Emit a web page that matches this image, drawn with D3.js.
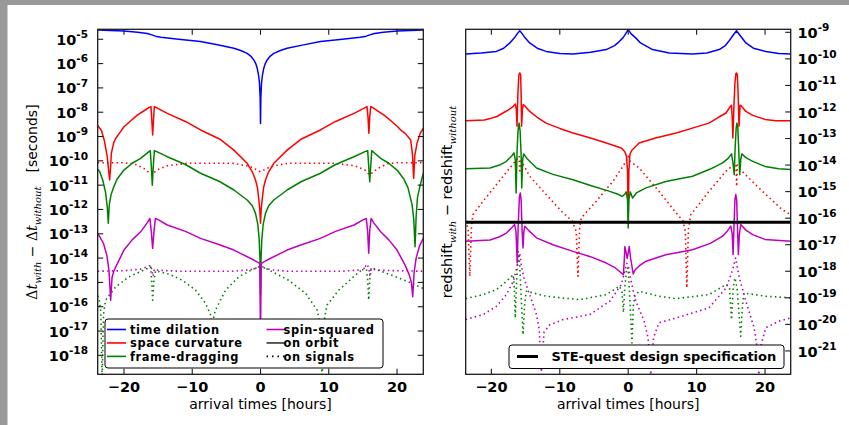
<!DOCTYPE html>
<html><head><meta charset="utf-8">
<script src="https://cdn.jsdelivr.net/npm/d3@7"></script>
<style>body{margin:0;background:#fff}svg{display:block}</style>
</head><body><svg id="c" width="849" height="425"></svg>
<script>
// ---- DATA: [arrival time (hours), log10(value)] ----
const xTicks = [-20, -10, 0, 10, 20];
const leftYExps = [-5,-6,-7,-8,-9,-10,-11,-12,-13,-14,-15,-16,-17,-18];
const rightYExps = [-9,-10,-11,-12,-13,-14,-15,-16,-17,-18,-19,-20,-21];

// Left panel: delta t (seconds), solid = on orbit
const lTimeDilation = [[-23.85,-4.62],[-22,-4.64],[-20,-4.66],[-18,-4.71],[-16.6,-4.76],[-15.8,-4.83],[-15.2,-4.89],[-14.6,-4.92],[-12,-5.0],[-8.8,-5.09],[-6.3,-5.23],[-3.9,-5.37],[-2.9,-5.46],[-1.95,-5.58],[-1.4,-5.7],[-0.98,-5.85],[-0.7,-6.0],[-0.49,-6.18],[-0.3,-6.45],[-0.15,-6.8],[-0.05,-7.4],[0,-8.46],[0.05,-7.4],[0.15,-6.8],[0.3,-6.45],[0.49,-6.18],[0.7,-6.0],[0.98,-5.85],[1.4,-5.7],[1.95,-5.58],[2.9,-5.46],[3.9,-5.37],[6.3,-5.23],[8.8,-5.09],[12,-5.0],[14.6,-4.92],[15.3,-4.89],[15.9,-4.83],[16.7,-4.76],[18,-4.71],[20,-4.66],[22,-4.64],[23.85,-4.62]];
const lSpaceCurv = [[-23.85,-8.55],[-23.3,-8.75],[-22.9,-9.14],[-22.45,-9.83],[-22.25,-10.4],[-22.1,-10.79],[-21.95,-10.2],[-21.85,-9.69],[-21.5,-9.25],[-21.2,-9.07],[-20.5,-8.8],[-20,-8.6],[-19,-8.35],[-18.05,-8.12],[-17,-7.93],[-16.3,-7.80],[-16.05,-7.77],[-15.95,-8.2],[-15.8,-8.94],[-15.65,-8.2],[-15.55,-7.77],[-15.3,-7.80],[-13.66,-8.05],[-11,-8.38],[-8.78,-8.73],[-6,-9.1],[-3.9,-9.56],[-1.95,-10.1],[-1.2,-10.45],[-0.73,-10.79],[-0.45,-11.1],[-0.24,-11.61],[-0.1,-12.0],[0,-12.57],[0.1,-12.0],[0.24,-11.61],[0.45,-11.1],[0.73,-10.79],[1.2,-10.45],[1.95,-10.1],[3.9,-9.56],[6,-9.1],[8.78,-8.73],[11,-8.38],[13.7,-8.05],[15.4,-7.80],[15.6,-7.77],[15.75,-8.2],[15.88,-8.87],[16.0,-8.2],[16.15,-7.77],[16.4,-7.80],[17.1,-7.93],[18.1,-8.12],[19.1,-8.35],[20.1,-8.6],[20.6,-8.75],[21.2,-8.87],[22.0,-9.14],[22.25,-9.7],[22.44,-10.72],[22.6,-9.8],[22.93,-9.28],[23.4,-8.87],[23.85,-8.66]];
const lFrameDrag = [[-23.85,-10.35],[-23.55,-10.45],[-23.1,-10.8],[-22.7,-11.3],[-22.45,-11.9],[-22.3,-12.57],[-22.15,-11.8],[-21.9,-11.4],[-21.5,-11.07],[-21,-10.75],[-20,-10.38],[-18.8,-10.1],[-17.56,-9.90],[-16.6,-9.68],[-16.15,-9.58],[-16.0,-10.2],[-15.85,-11.0],[-15.7,-10.2],[-15.55,-9.58],[-15.2,-9.62],[-13.66,-9.83],[-11,-10.15],[-8.78,-10.51],[-6,-10.85],[-3.9,-11.2],[-1.95,-11.61],[-1.2,-11.85],[-0.73,-12.16],[-0.4,-12.6],[-0.2,-13.2],[-0.08,-14],[0,-15.5],[0.08,-14],[0.2,-13.2],[0.4,-12.6],[0.73,-12.16],[1.2,-11.85],[1.95,-11.61],[3.9,-11.2],[6,-10.85],[8.78,-10.51],[11,-10.15],[13.7,-9.83],[15.3,-9.62],[15.7,-9.58],[15.85,-10.2],[16.0,-10.86],[16.15,-10.2],[16.3,-9.58],[16.7,-9.68],[17.6,-9.90],[18.8,-10.1],[20,-10.38],[21,-10.75],[21.6,-11.1],[22.2,-11.8],[22.45,-12.4],[22.64,-13.53],[22.8,-12.3],[23.0,-11.5],[23.4,-11.0],[23.85,-10.51]];
const lSpinSq = [[-23.85,-13.0],[-23.55,-13.12],[-23,-13.4],[-22.5,-13.9],[-22.2,-14.5],[-21.95,-15.73],[-21.75,-14.8],[-21.5,-14.55],[-21.2,-14.36],[-20,-13.67],[-18.8,-13.25],[-17.56,-12.92],[-16.6,-12.55],[-16.2,-12.37],[-16.0,-12.9],[-15.8,-13.6],[-15.6,-12.9],[-15.4,-12.37],[-15.0,-12.42],[-13.66,-12.64],[-11,-12.9],[-8.78,-13.19],[-6,-13.45],[-3.9,-13.67],[-0.98,-14.08],[-0.1,-14.22],[0,-17.5],[0.1,-14.22],[0.98,-14.08],[3.9,-13.67],[6,-13.45],[8.78,-13.19],[11,-12.9],[13.7,-12.64],[15.1,-12.42],[15.5,-12.37],[15.7,-12.9],[15.85,-13.8],[16.0,-12.9],[16.2,-12.37],[16.6,-12.55],[17.6,-12.92],[18.8,-13.25],[20,-13.67],[21.2,-14.3],[21.8,-14.7],[22.1,-15.0],[22.3,-15.59],[22.5,-14.6],[22.8,-14.0],[23.3,-13.5],[23.85,-13.19]];
// Left panel, dotted = on signals
const lSpaceCurvSig = [[-23.85,-10.08],[-20,-10.08],[-18.5,-10.12],[-17.1,-10.31],[-15.9,-10.58],[-15.2,-10.38],[-13.66,-10.2],[-10.7,-10.1],[-4,-10.1],[-1.46,-10.24],[0,-10.45],[1.46,-10.24],[4,-10.1],[10.7,-10.1],[13.8,-10.2],[15.3,-10.38],[16.0,-10.58],[17.2,-10.31],[18.6,-10.12],[20,-10.08],[23.85,-10.08]];
const lFrameDragSig = [[-23.85,-15.55],[-23.66,-15.66],[-23.4,-16.2],[-23.2,-19],[-23.0,-16.3],[-22.7,-15.73],[-21.2,-15.18],[-19.27,-14.77],[-17.3,-14.52],[-16.1,-14.36],[-15.95,-14.9],[-15.8,-15.73],[-15.6,-14.9],[-15.37,-14.52],[-13.4,-14.66],[-11.45,-14.91],[-9.5,-15.32],[-8.05,-15.86],[-7.3,-16.34],[-7.07,-18.5],[-6.85,-16.4],[-6.6,-16.14],[-5.12,-15.32],[-3.17,-14.77],[-1.2,-14.47],[0.1,-14.33],[1.7,-14.56],[4.1,-14.91],[6.6,-15.45],[8.3,-16.14],[8.75,-16.8],[9.03,-19],[9.3,-16.6],[9.75,-15.93],[11.46,-15.32],[13.9,-14.70],[15.1,-14.43],[15.5,-14.4],[15.7,-14.9],[15.85,-15.73],[16.0,-14.9],[16.2,-14.4],[16.6,-14.43],[19.8,-14.77],[21.7,-14.98],[23.85,-15.25]];
const lSpinSqSig = [[-23.85,-14.54],[-20,-14.52],[-17.5,-14.45],[-16.5,-14.35],[-16.1,-14.29],[-15.9,-14.5],[-15.75,-14.75],[-15.55,-14.45],[-15,-14.5],[-12,-14.54],[-4,-14.54],[-1.5,-14.48],[-0.5,-14.4],[0,-14.33],[0.5,-14.4],[1.5,-14.48],[4,-14.54],[12,-14.54],[15,-14.48],[15.6,-14.25],[15.85,-14.4],[16.0,-14.7],[16.2,-14.45],[17.5,-14.5],[20,-14.52],[23.85,-14.54]];

// Right panel: redshift difference, solid = on orbit
const rTimeDilation = [[-23.75,-9.82],[-21.5,-9.78],[-19.27,-9.72],[-18.2,-9.6],[-17.3,-9.40],[-16.6,-9.2],[-16.2,-9.05],[-15.85,-8.94],[-15.5,-9.05],[-15.1,-9.2],[-14.4,-9.40],[-13.3,-9.6],[-12.0,-9.72],[-10,-9.8],[-8.07,-9.82],[-5.5,-9.75],[-3.2,-9.65],[-2,-9.5],[-1.3,-9.35],[-0.77,-9.21],[-0.35,-9.05],[0,-8.90],[0.4,-9.05],[1.1,-9.21],[1.8,-9.4],[3.56,-9.65],[6,-9.78],[9.4,-9.82],[11.5,-9.78],[13.3,-9.65],[14.2,-9.5],[14.7,-9.34],[15.3,-9.12],[15.83,-8.94],[16.3,-9.1],[17.2,-9.40],[18.3,-9.6],[20.1,-9.72],[22,-9.8],[23.75,-9.82]];
const rSpaceCurv = [[-23.75,-12.33],[-21,-12.3],[-20.2,-12.25],[-19.2,-12.17],[-18.3,-12.04],[-17.5,-11.92],[-16.8,-11.79],[-16.5,-11.70],[-16.35,-11.9],[-16.25,-12.54],[-16.12,-11.3],[-15.98,-10.6],[-15.85,-10.53],[-15.72,-10.6],[-15.65,-11.3],[-15.58,-12.54],[-15.45,-11.9],[-15.35,-11.72],[-15.0,-11.8],[-14.4,-11.98],[-13.3,-12.2],[-12.0,-12.42],[-10,-12.62],[-8.07,-12.79],[-5.5,-12.98],[-3.2,-13.17],[-2,-13.27],[-1.0,-13.36],[-0.5,-13.5],[-0.25,-13.67],[-0.1,-14.2],[0,-16.0],[0.1,-14.2],[0.25,-13.6],[0.5,-13.45],[1.6,-13.17],[4,-12.98],[7.0,-12.79],[9.5,-12.6],[11.8,-12.42],[13.2,-12.2],[14.3,-12.04],[14.9,-11.8],[15.1,-11.75],[15.2,-12.2],[15.3,-12.98],[15.45,-11.8],[15.6,-10.9],[15.75,-10.55],[15.83,-10.53],[15.95,-10.6],[16.05,-11.2],[16.2,-12.54],[16.35,-11.75],[16.45,-11.75],[17.2,-11.98],[18.2,-12.13],[20,-12.28],[21.6,-12.33],[23.75,-12.33]];
const rFrameDrag = [[-23.75,-14.14],[-20.2,-14.11],[-18.8,-14.0],[-17.8,-13.86],[-17.0,-13.65],[-16.7,-13.54],[-16.5,-13.8],[-16.38,-15.05],[-16.25,-13.5],[-16.1,-12.7],[-15.95,-12.42],[-15.8,-12.7],[-15.65,-13.6],[-15.56,-14.86],[-15.42,-13.8],[-15.27,-13.58],[-14.8,-13.75],[-13.4,-14.11],[-11,-14.35],[-8.07,-14.55],[-5.5,-14.77],[-2.7,-14.99],[-1.5,-15.1],[-0.88,-15.18],[-0.5,-15.1],[-0.3,-15.01],[-0.1,-15.3],[0,-16.37],[0.1,-15.3],[0.3,-15.01],[0.5,-15.15],[0.64,-15.24],[1.2,-15.05],[2.6,-14.86],[5.5,-14.62],[9.4,-14.42],[12,-14.15],[13.8,-13.92],[14.6,-13.75],[15.1,-13.58],[15.3,-13.9],[15.5,-14.36],[15.62,-13.4],[15.78,-12.6],[15.9,-12.42],[16.02,-12.6],[16.15,-13.4],[16.3,-14.36],[16.45,-13.8],[16.6,-13.58],[17.2,-13.72],[18.2,-13.86],[20,-14.05],[22,-14.14],[23.75,-14.17]];
const rSpinSq = [[-23.75,-16.87],[-20.2,-16.82],[-18.8,-16.7],[-17.8,-16.56],[-17.0,-16.35],[-16.6,-16.24],[-16.4,-16.5],[-16.22,-17.69],[-16.08,-16.3],[-15.9,-15.2],[-15.77,-15.05],[-15.65,-15.3],[-15.5,-16.5],[-15.37,-17.12],[-15.25,-16.5],[-15.1,-16.30],[-14.6,-16.45],[-13.4,-16.74],[-11,-17.0],[-8.07,-17.25],[-5.5,-17.45],[-3.2,-17.69],[-2,-17.85],[-1.3,-18.0],[-0.7,-18.13],[-0.58,-17.6],[-0.48,-17.07],[-0.3,-17.3],[-0.15,-17.51],[0,-17.3],[0.15,-17.07],[0.35,-17.5],[0.73,-18.1],[1.0,-17.95],[1.6,-17.8],[2.6,-17.62],[5.5,-17.38],[9.4,-17.19],[12,-16.95],[13.8,-16.68],[14.5,-16.48],[15.0,-16.30],[15.2,-16.6],[15.33,-17.37],[15.45,-16.4],[15.6,-15.3],[15.72,-15.11],[15.85,-15.3],[15.98,-16.4],[16.1,-17.37],[16.25,-16.6],[16.45,-16.24],[17.2,-16.45],[18.2,-16.62],[20,-16.8],[23.75,-16.87]];
// Right panel, dotted = on signals
const rSpaceCurvSig = [[-23.75,-16.1],[-23.4,-16.4],[-23.15,-18.19],[-22.9,-16.3],[-22.7,-15.87],[-21.2,-15.36],[-19.27,-14.74],[-17.3,-14.11],[-16.1,-13.73],[-15.95,-13.65],[-15.85,-14.3],[-15.7,-13.85],[-15.4,-13.95],[-14.4,-14.42],[-12.0,-15.11],[-9.53,-15.80],[-8.2,-16.1],[-7.6,-16.5],[-7.34,-18.19],[-7.1,-16.4],[-6.86,-15.99],[-4.67,-15.36],[-2.23,-14.61],[-0.3,-13.86],[0,-13.67],[0.3,-13.86],[1.6,-14.11],[4.5,-14.99],[7.0,-15.80],[8.0,-16.1],[8.35,-16.5],[8.57,-18.63],[8.8,-16.4],[9.15,-15.87],[11.8,-14.99],[14.3,-14.23],[15.5,-13.98],[15.75,-13.95],[15.85,-14.81],[15.95,-14.0],[16.5,-14.2],[19.1,-14.86],[22.5,-15.68],[23.75,-15.87]];
const rFrameDragSig = [[-23.75,-19.03],[-21.2,-18.88],[-19.27,-18.69],[-17.8,-18.38],[-16.8,-18.13],[-16.65,-18.6],[-16.5,-19.76],[-16.3,-18.3],[-16.1,-17.25],[-15.85,-17.8],[-15.6,-19.2],[-15.37,-20.39],[-15.15,-19.3],[-14.9,-18.75],[-12.0,-18.94],[-7.1,-19.07],[-3.2,-18.88],[-1.26,-18.56],[-0.9,-18.8],[-0.7,-19.55],[-0.5,-18.6],[-0.2,-17.87],[0,-17.9],[0.15,-18.6],[0.55,-20.7],[0.75,-19.3],[1.0,-18.9],[1.6,-18.75],[4.5,-18.94],[7.0,-19.03],[11.8,-18.88],[14.3,-18.50],[14.8,-18.6],[15.1,-19.82],[15.35,-18.6],[15.6,-18.25],[15.9,-18.6],[16.2,-19.6],[16.45,-20.45],[16.7,-19.3],[16.9,-18.82],[20.1,-18.94],[23.75,-19.0]];
const rSpinSqSig = [[-23.75,-19.82],[-21.2,-19.63],[-19.27,-19.32],[-17.8,-18.88],[-16.8,-18.38],[-16.2,-17.8],[-15.85,-17.32],[-15.6,-17.8],[-15.2,-18.3],[-14.4,-18.88],[-13.4,-19.63],[-13.0,-20.2],[-12.7,-21.8],[-12.3,-20.3],[-11.5,-20.02],[-9.53,-19.82],[-5.63,-19.63],[-2.7,-19.13],[-1.0,-18.50],[-0.5,-18.0],[-0.2,-17.7],[0,-17.8],[0.3,-18.2],[0.7,-18.7],[1.12,-19.13],[2.34,-19.88],[2.9,-20.5],[3.31,-21.9],[3.7,-20.5],[4.5,-19.94],[7.0,-19.76],[11.8,-19.38],[14.3,-18.63],[15.2,-18.0],[15.7,-17.5],[16.2,-18.2],[17.2,-19.13],[18.4,-20.13],[18.8,-20.8],[19.1,-21.9],[19.4,-20.8],[20.1,-20.13],[22.0,-19.88],[23.75,-19.76]];
const steQuestSpecLog = -16.15;

const colors = {"time dilation":"#0000ff","space curvature":"#ff0000","frame-dragging":"#008000","spin-squared":"#bf00bf"};

// ---- DRAW ----
const svg = d3.select("#c");
svg.append("rect").attr("x",0).attr("y",0).attr("width",849).attr("height",425).attr("fill","#fff");
svg.append("rect").attr("x",0).attr("y",0).attr("width",849).attr("height",5).attr("fill","#999");
svg.append("rect").attr("x",0).attr("y",0).attr("width",7.5).attr("height",425).attr("fill","#999");

const yTop = 29.3, yBot = 374.3;
const L = {x0:97.7, x1:423.3, xd:[-23.85,23.85], yd:[-18.78,-4.59], id:"L"};
const R = {x0:465.7, x1:790.7, xd:[-23.75,23.75], yd:[-21.88,-8.887], id:"R"};
[L,R].forEach(p=>{
  p.x = d3.scaleLinear().domain(p.xd).range([p.x0,p.x1]);
  p.y = d3.scaleLog().domain([Math.pow(10,p.yd[0]),Math.pow(10,p.yd[1])]).range([yBot,yTop]);
  svg.append("clipPath").attr("id","clip"+p.id).append("rect")
    .attr("x",p.x0).attr("y",yTop).attr("width",p.x1-p.x0).attr("height",yBot-yTop);
  p.g = svg.append("g").attr("clip-path",`url(#clip${p.id})`);
  p.line = d3.line().x(d=>p.x(d[0])).y(d=>p.y(Math.pow(10,d[1])));
});

function draw(p, data, color, dotted){
  p.g.append("path").datum(data).attr("d",p.line).attr("fill","none")
    .attr("stroke",color).attr("stroke-width",dotted?1.6:1.5)
    .attr("stroke-dasharray",dotted?"1.5,3.2":null).attr("stroke-linejoin","round");
}
draw(L,lTimeDilation,colors["time dilation"],false);
draw(L,lSpaceCurv,colors["space curvature"],false);
draw(L,lSpaceCurvSig,colors["space curvature"],true);
draw(L,lFrameDrag,colors["frame-dragging"],false);
draw(L,lFrameDragSig,colors["frame-dragging"],true);
draw(L,lSpinSq,colors["spin-squared"],false);
draw(L,lSpinSqSig,colors["spin-squared"],true);
draw(R,rTimeDilation,colors["time dilation"],false);
draw(R,rSpaceCurv,colors["space curvature"],false);
draw(R,rSpaceCurvSig,colors["space curvature"],true);
draw(R,rFrameDrag,colors["frame-dragging"],false);
draw(R,rFrameDragSig,colors["frame-dragging"],true);
draw(R,rSpinSq,colors["spin-squared"],false);
draw(R,rSpinSqSig,colors["spin-squared"],true);
R.g.append("line").attr("x1",R.x0).attr("x2",R.x1)
  .attr("y1",R.y(Math.pow(10,steQuestSpecLog))).attr("y2",R.y(Math.pow(10,steQuestSpecLog)))
  .attr("stroke","#000").attr("stroke-width",3);

const tickLen = 5.5;
[L,R].forEach(p=>{
  const a = svg.append("g").attr("stroke","#1a1a1a").attr("stroke-width",1.1);
  xTicks.forEach(t=>{
    const x = p.x(t);
    a.append("line").attr("x1",x).attr("x2",x).attr("y1",yTop).attr("y2",yTop+tickLen);
    a.append("line").attr("x1",x).attr("x2",x).attr("y1",yBot).attr("y2",yBot-tickLen);
  });
  const exps = p===L?leftYExps:rightYExps;
  exps.forEach(e=>{
    const y = p.y(Math.pow(10,e));
    if(p===L) a.append("line").attr("x1",p.x0).attr("x2",p.x0+tickLen).attr("y1",y).attr("y2",y);
    a.append("line").attr("x1",p.x1).attr("x2",p.x1-tickLen).attr("y1",y).attr("y2",y);
  });
  a.append("rect").attr("x",p.x0).attr("y",yTop).attr("width",p.x1-p.x0).attr("height",yBot-yTop)
    .attr("fill","none").attr("stroke-width",1.3);
  const tl = svg.append("g").attr("font-family","'DejaVu Sans',sans-serif").attr("font-weight","bold")
    .attr("font-size",14.5).attr("fill","#000").attr("text-anchor","middle");
  xTicks.forEach(t=>{
    tl.append("text").attr("x",p.x(t)).attr("y",392).text(t<0?"\u2212"+Math.abs(t):String(t));
  });
  exps.forEach(e=>{
    const y = p.y(Math.pow(10,e));
    const tx = svg.append("text").attr("font-family","'DejaVu Sans',sans-serif").attr("font-weight","bold")
      .attr("font-size",14.5).attr("fill","#000")
      .attr("x",p===L?88:797.5).attr("y",y+5.6).attr("text-anchor",p===L?"end":"start");
    tx.append("tspan").text("10");
    tx.append("tspan").attr("font-size",10.5).attr("dy",-6.8).text(String(e));
  });
  svg.append("text").attr("x",(p.x0+p.x1)/2).attr("y",409).attr("text-anchor","middle")
    .attr("font-family","'DejaVu Sans',sans-serif").attr("font-size",14).attr("fill","#000")
    .text("arrival times [hours]");
});

function mathLabel(cx, cy, parts){
  const t = svg.append("text").attr("transform",`translate(${cx},${cy}) rotate(-90)`)
    .attr("text-anchor","middle").attr("fill","#000");
  let shift = 0;
  parts.forEach(pt=>{
    const s = t.append("tspan").text(pt.t);
    s.attr("font-family", pt.serif?"'DejaVu Serif',serif":"'DejaVu Sans',sans-serif");
    if(pt.italic) s.attr("font-style","italic");
    const want = pt.sub?4:0;
    s.attr("font-size", pt.sub?10:(pt.size||14));
    if(want!==shift){ s.attr("dy", want-shift); shift = want; }
  });
}
mathLabel(37, 202, [
  {t:"\u0394",serif:true},{t:"t",serif:true,italic:true},{t:"with",serif:true,italic:true,sub:true},
  {t:" \u2212 ",serif:true},{t:"\u0394",serif:true},{t:"t",serif:true,italic:true},{t:"without",serif:true,italic:true,sub:true},
  {t:"\u2003[seconds]"}
]);
mathLabel(452, 202, [
  {t:"redshift",size:14.5},{t:"with",serif:true,italic:true,sub:true},
  {t:" \u2212 redshift",size:14.5},{t:"without",serif:true,italic:true,sub:true}
]);

const lg = svg.append("g").attr("font-family","'DejaVu Sans',sans-serif").attr("font-weight","bold")
  .attr("font-size",11.4).attr("letter-spacing",0.6);
lg.append("rect").attr("x",105).attr("y",319).attr("width",278).attr("height",49).attr("rx",3)
  .attr("fill","#fff").attr("stroke","#000").attr("stroke-width",1);
const legItems = [
  {label:"time dilation",color:colors["time dilation"],col:0,row:0},
  {label:"space curvature",color:colors["space curvature"],col:0,row:1},
  {label:"frame-dragging",color:colors["frame-dragging"],col:0,row:2},
  {label:"spin-squared",color:colors["spin-squared"],col:1,row:0},
  {label:"on orbit",color:"#333",col:1,row:1},
  {label:"on signals",color:"#000",col:1,row:2,dotted:true}
];
legItems.forEach(it=>{
  const lx = it.col===0?107:266.5, tx = it.col===0?130:283.5, cy = 329.5+it.row*13.45;
  lg.append("line").attr("x1",lx).attr("x2",lx+19).attr("y1",cy).attr("y2",cy)
    .attr("stroke",it.color).attr("stroke-width",1.6).attr("stroke-dasharray",it.dotted?"1.5,4":null);
  lg.append("text").attr("x",tx).attr("y",cy+4.2).text(it.label);
});
const rg = svg.append("g").attr("font-family","'DejaVu Sans',sans-serif").attr("font-weight","bold").attr("font-size",13);
rg.append("rect").attr("x",509).attr("y",345).attr("width",275).attr("height",23.5).attr("rx",3)
  .attr("fill","#fff").attr("stroke","#000").attr("stroke-width",1);
rg.append("line").attr("x1",517).attr("x2",538).attr("y1",356.5).attr("y2",356.5).attr("stroke","#000").attr("stroke-width",3);
rg.append("text").attr("x",551.5).attr("y",361.2).text("STE-quest design specification");
</script></body></html>
